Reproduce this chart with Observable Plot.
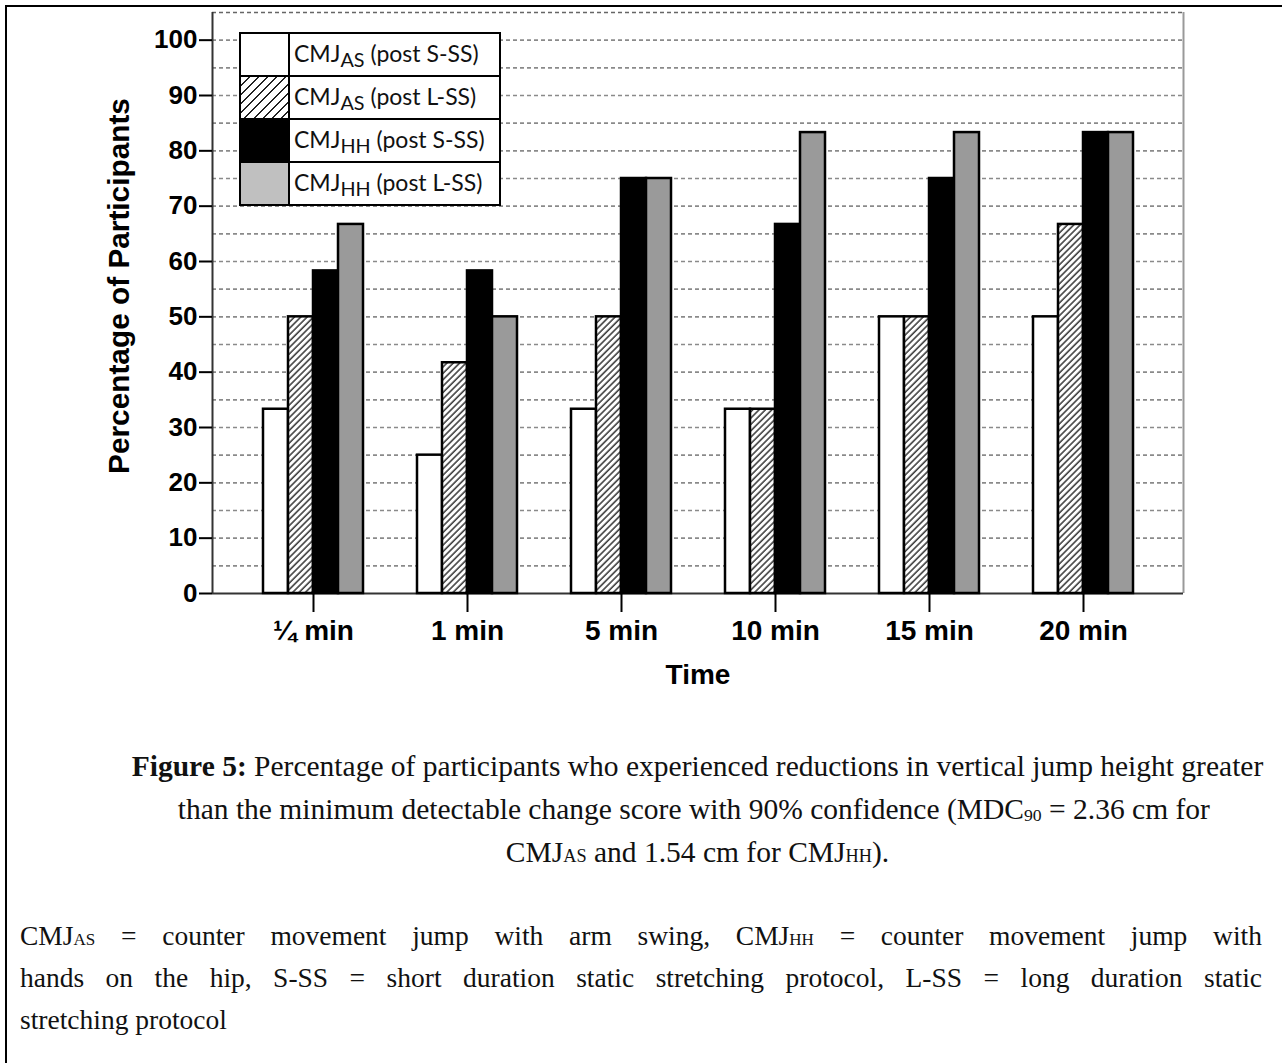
<!DOCTYPE html>
<html><head><meta charset="utf-8">
<script src="https://cdn.jsdelivr.net/npm/d3@7"></script>
<script src="https://cdn.jsdelivr.net/npm/@observablehq/plot@0.6"></script>
<style>
html,body{margin:0;padding:0;background:#fff;overflow:hidden;}
#page{position:relative;width:1282px;height:1063px;overflow:hidden;background:#fff;}
#frame{position:absolute;left:5px;top:5px;width:1400px;height:1200px;border:2.5px solid #000;}
.layer{position:absolute;left:0;top:0;}
#legend{position:absolute;left:239px;top:32px;width:262px;border:2px solid #000;background:#fff;box-sizing:border-box;}
.lrow{display:flex;height:43px;border-top:2px solid #000;box-sizing:border-box;}
.lrow:first-child{border-top:none;height:41px;}
.sw{width:49px;border-right:2px solid #000;box-sizing:border-box;flex:none;}
.lt{padding-left:4px;font-family:Lato, "Open Sans", sans-serif;font-size:23px;color:#111;display:block;line-height:38px;white-space:nowrap;}
.lt sub{font-size:86%;vertical-align:-5px;line-height:0;}
.cap{position:absolute;font-family:"Liberation Serif","Times New Roman",serif;color:#111;white-space:nowrap;line-height:1;}
.center{left:130px;width:1135px;text-align:center;font-size:29.5px;}
.just{left:20px;width:1242px;text-align:justify;text-align-last:justify;font-size:27.5px;}
.left{left:20px;font-size:27.5px;}
.sm{font-size:62%;}
.sml{font-size:60%;vertical-align:-2px;line-height:0;}
</style></head><body>
<div id="page">
<div id="bg" class="layer"></div>
<div id="fg" class="layer"></div>
<div id="legend"></div>
<div class="cap center" style="top:752px"><b>Figure 5:</b> Percentage of participants who experienced reductions in vertical jump height greater</div>
<div class="cap center" style="top:795px">than the minimum detectable change score with 90% confidence (MDC<span class="sml">90</span> = 2.36 cm for&nbsp;</div>
<div class="cap center" style="top:838px">CMJ<span class="sm">AS</span> and 1.54 cm for CMJ<span class="sm">HH</span>).</div>
<div class="cap just" style="top:922px">CMJ<span class="sm">AS</span> = counter movement jump with arm swing, CMJ<span class="sm">HH</span> = counter movement jump with</div>
<div class="cap just" style="top:964px">hands on the hip, S-SS = short duration static stretching protocol, L-SS = long duration static</div>
<div class="cap left" style="top:1006px">stretching protocol</div>
<div id="frame"></div>
</div>
<script>
// ---- data ----
const times = ["¼ min", "1 min", "5 min", "10 min", "15 min", "20 min"];
const series = ["CMJAS (post S-SS)", "CMJAS (post L-SS)", "CMJHH (post S-SS)", "CMJHH (post L-SS)"];
const seriesBase = ["CMJ", "CMJ", "CMJ", "CMJ"];
const seriesSub = ["AS", "AS", "HH", "HH"];
const seriesNote = ["(post S-SS)", "(post L-SS)", "(post S-SS)", "(post L-SS)"];
const asShort = [33.3, 25.0, 33.3, 33.3, 50.0, 50.0];
const asLong  = [50.0, 41.7, 50.0, 33.3, 50.0, 66.7];
const hhShort = [58.3, 58.3, 75.0, 66.7, 75.0, 83.3];
const hhLong  = [66.7, 50.0, 75.0, 83.3, 83.3, 83.3];
const yTicks = [0, 10, 20, 30, 40, 50, 60, 70, 80, 90, 100];
const gridLevels = [5, 10, 15, 20, 25, 30, 35, 40, 45, 50, 55, 60, 65, 70, 75, 80, 85, 90, 95, 100];
const yTitle = "Percentage of Participants";
const xTitle = "Time";
const fills = ["#ffffff", "url(#hatch)", "#000000", "#9a9a9a"];
const legendSwatches = ["#ffffff", "repeating-linear-gradient(135deg,#fff 0 5px,#222 5px 6.5px)", "#000000", "#c0c0c0"];

const valuesBySeries = [asShort, asLong, hhShort, hhLong];
const rows = times.flatMap((t, i) => series.map((s, j) => ({time: t, series: s, value: valuesBySeries[j][i]})));

const W = 1282, H = 700;
const M = {marginTop: 12, marginBottom: 107, marginLeft: 212, marginRight: 99};
const font = '"Liberation Sans", Arial, sans-serif';

const bg = Plot.plot({
  width: W, height: H, ...M,
  style: {background: "transparent", color: "#000", fontFamily: font},
  x: {domain: [0, 1], axis: null},
  y: {domain: [0, 105], axis: null},
  marks: [
    Plot.ruleY(gridLevels, {stroke: "#8a8a8a", strokeWidth: 1.6, strokeDasharray: "4,3"}),
    Plot.ruleY([105], {stroke: "#666", strokeWidth: 1.6, strokeDasharray: "4,3"}),
    Plot.ruleX([1], {stroke: "#999", strokeWidth: 2}),
    Plot.ruleX([0], {stroke: "#333", strokeWidth: 2}),
    Plot.ruleY([0], {stroke: "#333", strokeWidth: 2}),
    Plot.axisY(yTicks, {tickSize: 13, tickPadding: 2, strokeWidth: 2, fontSize: 26, fontWeight: "bold", label: null}),
    Plot.text([yTitle], {text: d => d, frameAnchor: "left", textAnchor: "middle", rotate: -90, dx: -93, dy: -17, fontSize: 29.8, fontWeight: "bold"}),
    Plot.text([xTitle], {text: d => d, frameAnchor: "bottom", dy: 90, fontSize: 28, fontWeight: "bold"})
  ]
});
document.getElementById("bg").appendChild(bg);

const fg = Plot.plot({
  width: W, height: H, ...M,
  style: {background: "transparent", color: "#000", fontFamily: font},
  fx: {domain: times, paddingInner: 0.34, paddingOuter: 0.317, label: null},
  x: {domain: series, axis: null, padding: 0},
  y: {domain: [0, 105], axis: null},
  color: {domain: series, range: fills},
  marks: [
    Plot.barY(rows, {fx: "time", x: "series", y: "value", fill: "series", stroke: "#000", strokeWidth: 2.5}),
    Plot.axisFx({anchor: "bottom", tickSize: 19, tickPadding: 8, strokeWidth: 2, fontSize: 28, fontWeight: "bold", label: null})
  ]
});
const defs = d3.select(fg).insert("defs", ":first-child");
const pat = defs.append("pattern").attr("id", "hatch").attr("patternUnits", "userSpaceOnUse")
  .attr("width", 4.5).attr("height", 4.5).attr("patternTransform", "rotate(45)");
pat.append("rect").attr("width", 4.5).attr("height", 4.5).attr("fill", "#fff");
pat.append("line").attr("x1", 1).attr("x2", 1).attr("y1", 0).attr("y2", 4.5).attr("stroke", "#333").attr("stroke-width", 1.5);
document.getElementById("fg").appendChild(fg);

// legend
const leg = d3.select("#legend");
series.forEach((s, j) => {
  const r = leg.append("div").attr("class", "lrow");
  r.append("div").attr("class", "sw").style("background", legendSwatches[j]);
  const t = r.append("div").attr("class", "lt");
  t.append("span").text(seriesBase[j]);
  t.append("sub").text(seriesSub[j]);
  t.append("span").html("&nbsp;" + seriesNote[j]);
});
</script>
</body></html>
